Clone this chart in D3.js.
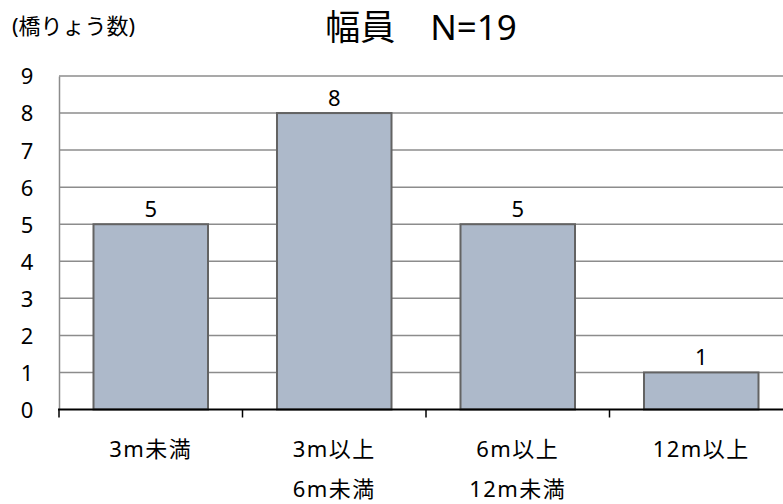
<!DOCTYPE html>
<html>
<head>
<meta charset="utf-8">
<script src="https://cdn.jsdelivr.net/npm/d3@7/dist/d3.min.js"></script>
<style>
  html, body { margin: 0; padding: 0; background: #fff; }
  svg { display: block; font-family: "Noto Sans", "Noto Sans CJK JP", sans-serif; }
</style>
</head>
<body>
<svg id="chart" width="783" height="504"></svg>
<script>
// 幅員別の橋りょう数
const categories = [["3m未満"], ["3m以上", "6m未満"], ["6m以上", "12m未満"], ["12m以上"]];
const counts = [5, 8, 5, 1];
const yTicks = [0, 1, 2, 3, 4, 5, 6, 7, 8, 9];
const titleText = "幅員　N=19";
const yLabel = "(橋りょう数)";

const svg = d3.select("#chart");
const plotLeft = 59, plotRight = 793, plotTop = 76, plotBottom = 409.5;

const x = d3.scaleBand()
  .domain(d3.range(categories.length))
  .range([plotLeft, plotRight])
  .paddingInner(0.376)
  .paddingOuter(0.188);
const step = x.step();

const y = d3.scaleLinear().domain([0, 9]).range([plotBottom, plotTop]);

// gridlines
svg.append("g")
  .selectAll("line")
  .data(yTicks.filter(d => d > 0))
  .join("line")
  .attr("x1", plotLeft).attr("x2", 783)
  .attr("y1", d => y(d)).attr("y2", d => y(d))
  .attr("stroke", "#8c8c8c").attr("stroke-width", 1.5);

// left axis
const yAxis = svg.append("g")
  .attr("transform", `translate(${plotLeft},0)`)
  .call(d3.axisLeft(y).tickValues(yTicks).tickSize(0).tickPadding(25));
yAxis.select(".domain").attr("stroke", "#8c8c8c").attr("stroke-width", 1.5);
yAxis.selectAll("text")
  .attr("font-size", 22).attr("fill", "#000")
  .attr("font-family", "Noto Sans, sans-serif")
  .attr("text-anchor", "middle").attr("dx", -7).attr("dy", "0.36em");

// bars
svg.append("g")
  .selectAll("rect")
  .data(counts)
  .join("rect")
  .attr("x", (d, i) => x(i))
  .attr("y", d => y(d))
  .attr("width", x.bandwidth())
  .attr("height", d => y(0) - y(d))
  .attr("fill", "#adb9ca")
  .attr("stroke", "#636363")
  .attr("stroke-width", 2);

// value labels
svg.append("g")
  .selectAll("text")
  .data(counts)
  .join("text")
  .attr("x", (d, i) => x(i) + x.bandwidth() / 2)
  .attr("y", d => y(d) - 7)
  .attr("text-anchor", "middle")
  .attr("font-size", 22)
  .attr("font-family", "Noto Sans, sans-serif")
  .text(d => d);

// category axis
const boundaries = d3.range(categories.length + 1).map(i => plotLeft + i * step);
svg.append("line")
  .attr("x1", plotLeft - 1).attr("x2", 783)
  .attr("y1", y(0)).attr("y2", y(0))
  .attr("stroke", "#000").attr("stroke-width", 2);
svg.append("g")
  .selectAll("line")
  .data(boundaries)
  .join("line")
  .attr("x1", d => d).attr("x2", d => d)
  .attr("y1", y(0)).attr("y2", y(0) + 8)
  .attr("stroke", "#000").attr("stroke-width", 1.5);

const catG = svg.append("g");
categories.forEach((lines, i) => {
  const cx = x(i) + x.bandwidth() / 2;
  const t = catG.append("text")
    .attr("x", cx)
    .attr("y", 457)
    .attr("text-anchor", "middle")
    .attr("font-size", 22)
    .attr("letter-spacing", 1.5);
  lines.forEach((s, j) => {
    t.append("tspan")
      .attr("x", cx)
      .attr("dy", j === 0 ? 0 : 40)
      .text(s);
  });
});

// title
svg.append("text")
  .attr("x", 421).attr("y", 40)
  .attr("text-anchor", "middle")
  .attr("font-size", 35)
  .text(titleText);

// axis unit
svg.append("text")
  .attr("x", 12).attr("y", 34)
  .attr("font-size", 22)
  .text(yLabel);
</script>
</body>
</html>
